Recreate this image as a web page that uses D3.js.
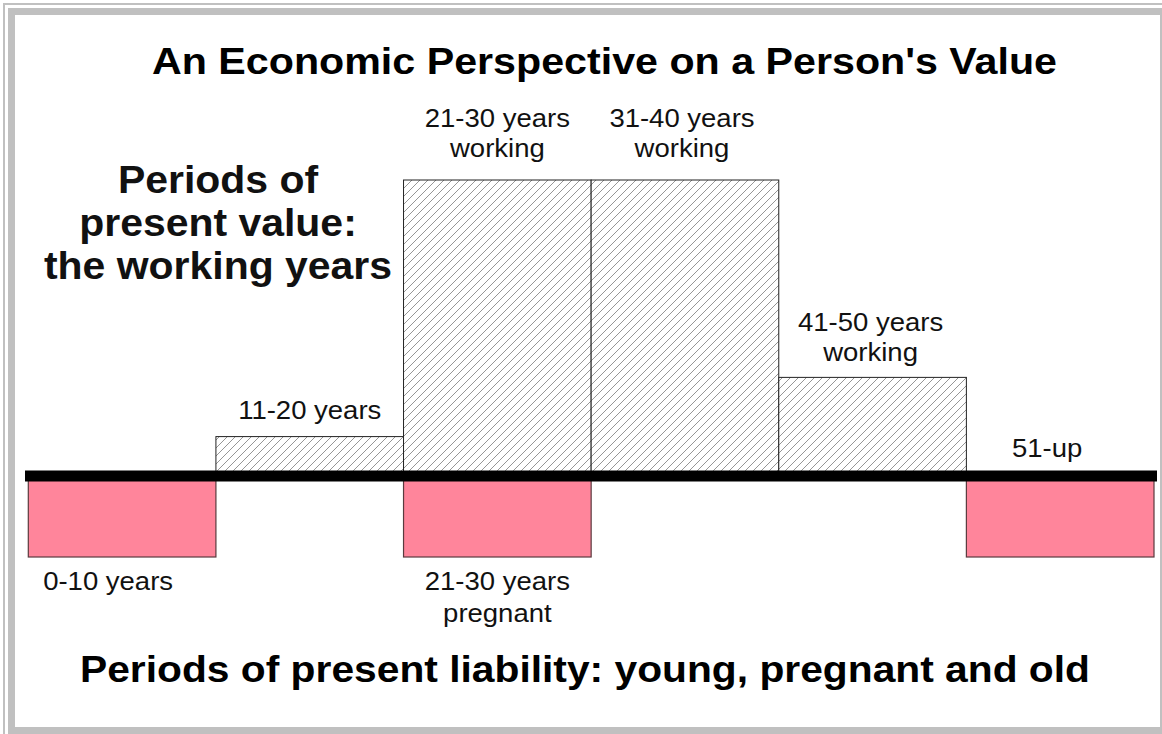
<!DOCTYPE html>
<html><head><meta charset="utf-8">
<script src="https://cdn.jsdelivr.net/npm/d3@7"></script>
<style>html,body{margin:0;padding:0;background:#fff;}svg{display:block;}</style>
</head><body>
<svg id="chart" width="1162" height="734"></svg>
<script>
const categories = ["0-10", "11-20", "21-30", "31-40", "41-50", "51-up"];
const workingValues = [0, 2, 15, 15, 5, 0];
const liabilityValues = [-4.1, 0, -4.1, 0, 0, -4.1];
const workingLabels = [[], ["11-20 years"], ["21-30 years", "working"], ["31-40 years", "working"], ["41-50 years", "working"], ["51-up"]];
const liabilityLabels = [["0-10 years"], [], ["21-30 years", "pregnant"], [], [], []];
const titleText = "An Economic Perspective on a Person's Value";
const valueNote = ["Periods of", "present value:", "the working years"];
const liabilityNote = "Periods of present liability: young, pregnant and old";

const svg = d3.select("#chart");
const W = 1162, H = 734;
const font = "'Liberation Sans', Arial, sans-serif";

// frame
svg.append("rect").attr("x", 0).attr("y", 0).attr("width", W).attr("height", H).attr("fill", "#fff");
svg.append("rect").attr("x", 3).attr("y", 3).attr("width", W - 3).attr("height", 2).attr("fill", "#c0c0c0");
svg.append("rect").attr("x", 3).attr("y", 3).attr("width", 2).attr("height", H - 3).attr("fill", "#c0c0c0");
svg.append("rect").attr("x", 8).attr("y", 8).attr("width", W - 8).attr("height", H - 8).attr("fill", "#c0c0c0");
svg.append("rect").attr("x", 15).attr("y", 15).attr("width", 1145).attr("height", 712).attr("fill", "#fff");

// hatch pattern
const defs = svg.append("defs");
const pat = defs.append("pattern").attr("id", "hatch").attr("patternUnits", "userSpaceOnUse")
  .attr("width", 8).attr("height", 8);
pat.append("rect").attr("width", 8).attr("height", 8).attr("fill", "#fff");
pat.append("path").attr("d", "M-2,2 L2,-2 M0,8 L8,0 M6,10 L10,6")
  .attr("stroke", "#8a8a8a").attr("stroke-width", 0.9);

const x = d3.scaleBand().domain(categories).range([28.3, 1154]).padding(0);
const y = d3.scaleLinear().domain([-4.1, 15]).range([557, 180]);

// working bars
svg.append("g").selectAll("rect").data(categories.map((c, i) => ({c, v: workingValues[i]})).filter(d => d.v > 0))
  .join("rect")
  .attr("x", d => x(d.c)).attr("width", x.bandwidth())
  .attr("y", d => y(d.v)).attr("height", d => y(0) - y(d.v))
  .attr("fill", "url(#hatch)").attr("stroke", "#222").attr("stroke-width", 1);

// liability bars
svg.append("g").selectAll("rect").data(categories.map((c, i) => ({c, v: liabilityValues[i]})).filter(d => d.v < 0))
  .join("rect")
  .attr("x", d => x(d.c)).attr("width", x.bandwidth())
  .attr("y", y(0)).attr("height", d => y(d.v) - y(0))
  .attr("fill", "#ff859b").attr("stroke", "#5a3a3e").attr("stroke-width", 1.2);

// baseline
svg.append("line").attr("x1", 25).attr("x2", 1157).attr("y1", y(0)).attr("y2", y(0))
  .attr("stroke", "#000").attr("stroke-width", 11);

function stretchedText(px, py, t, size, weight, sx) {
  return svg.append("text")
    .attr("transform", `translate(${px},${py}) scale(${sx},1)`)
    .attr("text-anchor", "middle").attr("font-family", font)
    .attr("font-size", size).attr("font-weight", weight)
    .attr("fill", "#111").text(t);
}

// working labels
const labelDx = [-14, 0, 0, -3, -2, -13];
const labelGap = [0, 18, 23, 23, 16, 19];
categories.forEach((c, i) => {
  const lines = workingLabels[i];
  const top = workingValues[i] > 0 ? y(workingValues[i]) : y(0);
  lines.forEach((t, j) => {
    stretchedText(x(c) + x.bandwidth() / 2 + labelDx[i],
      top - labelGap[i] - (lines.length - 1 - j) * 30, t, 25, "normal", 1.1);
  });
  const l2 = liabilityLabels[i];
  l2.forEach((t, j) => {
    stretchedText(x(c) + x.bandwidth() / 2 + labelDx[i],
      y(-4.1) + 33 + j * 32, t, 25, "normal", 1.1);
  });
});

// title
svg.append("text").attr("x", 604.5).attr("y", 74).attr("text-anchor", "middle")
  .attr("font-family", font).attr("font-weight", "bold").attr("font-size", 37)
  .attr("textLength", 905).attr("lengthAdjust", "spacingAndGlyphs").text(titleText);

// left note
valueNote.forEach((t, j) => {
  stretchedText(218, 193 + j * 43, t, 39, "bold", 1.05);
});

// bottom note
svg.append("text").attr("x", 585).attr("y", 682).attr("text-anchor", "middle")
  .attr("font-family", font).attr("font-weight", "bold").attr("font-size", 37)
  .attr("textLength", 1010).attr("lengthAdjust", "spacingAndGlyphs").text(liabilityNote);
</script>
</body></html>
